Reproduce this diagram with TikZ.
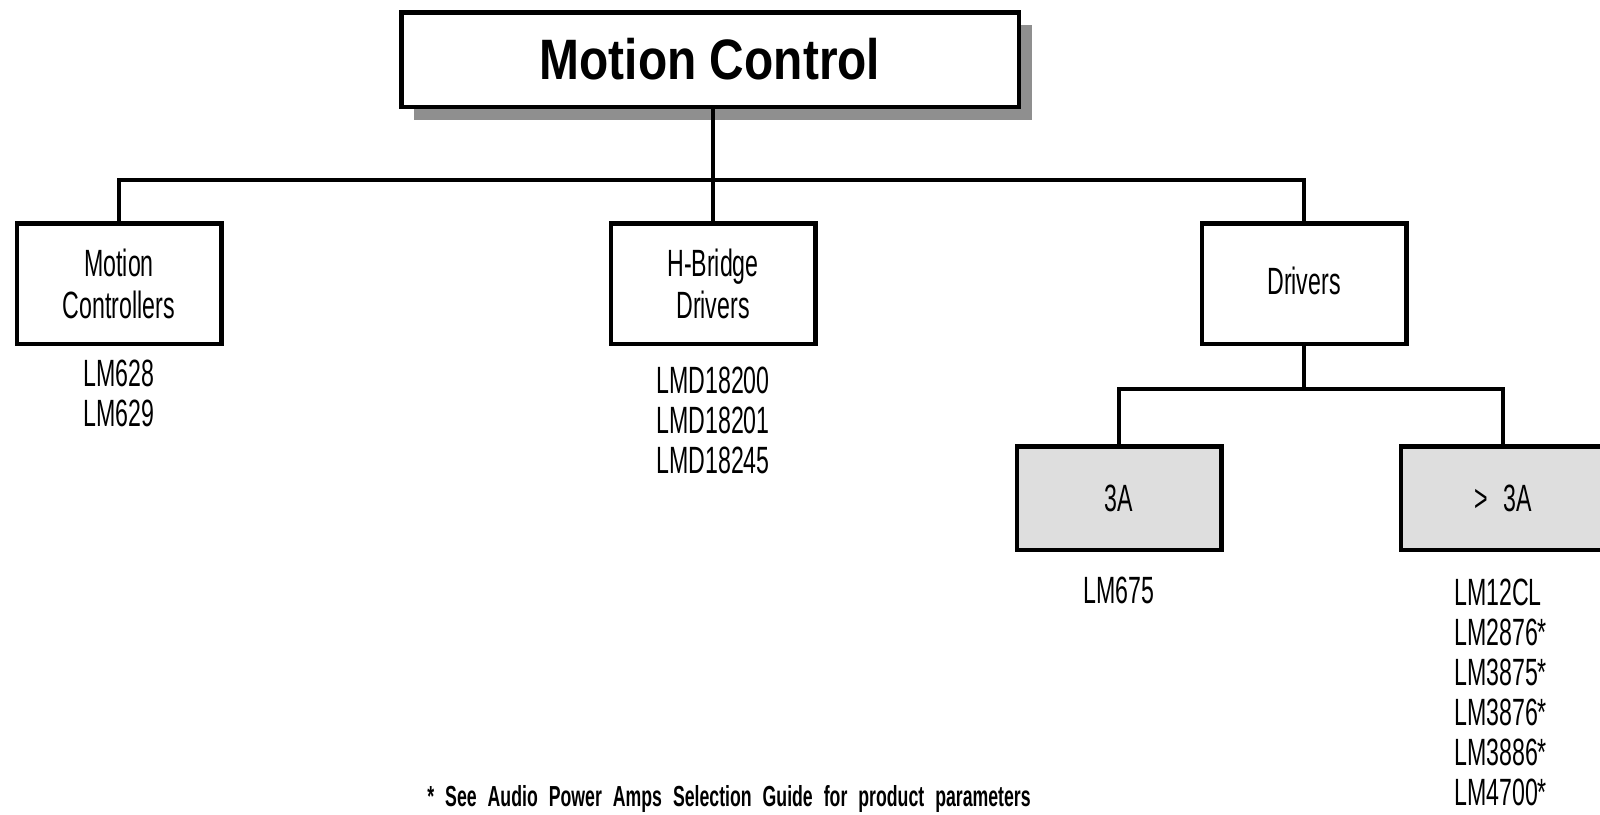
\documentclass[tikz,border=0pt]{standalone}
\usepackage{fontspec}
\setmainfont[FakeStretch=0.61]{Liberation Sans}
\newfontfamily\headfont[FakeStretch=0.84]{Liberation Sans}
\usetikzlibrary{shadows}
\definecolor{boxgray}{gray}{0.87}
\definecolor{shadowgray}{gray}{0.56}
\tikzset{
	chartbox/.style={draw, line width=4.5pt, fill=white, inner sep=0pt, minimum width=204.5pt, minimum height=120.5pt, align=center, font=\fontsize{38}{42}\selectfont},
	ampbox/.style={chartbox, fill=boxgray, minimum height=103.5pt},
	partlist/.style={inner sep=0pt, font=\fontsize{38}{40}\selectfont},
	bus/.style={line width=4pt}
}
\begin{document}
\begin{tikzpicture}[x=1pt, y=1pt]
			\useasboundingbox (0,0) rectangle (1600,-814);
			\node[chartbox, minimum width=617.5pt, minimum height=94.5pt, font=\headfont\bfseries\fontsize{57}{60}\selectfont,
				drop shadow={shadow xshift=13pt, shadow yshift=-13pt, fill=shadowgray, opacity=1}] at (710,-59.5) (top) {Motion Control};
			\node[chartbox] at ([xshift = -591pt, yshift = -224pt]top) (ctrl) {Motion\\Controllers};
			\node[chartbox] at ([xshift = 3pt, yshift = -224pt]top) (hbridge) {H-Bridge\\Drivers};
			\node[chartbox] at ([xshift = 594pt, yshift = -224pt]top) (drivers) {\raisebox{6pt}{Drivers}};
			\node[ampbox] at ([xshift = -185pt, yshift = -214.5pt]drivers) (low) {3A};
			\node[ampbox] at ([xshift = 199pt, yshift = -214.5pt]drivers) (high) {>\hspace{16pt}3A};
			\coordinate (bus) at ([yshift = -120.5pt]top);
			\coordinate (sub) at ([yshift = -105.5pt]drivers);

			\node[partlist, align=center] at ([yshift = -110pt]ctrl) (ctrllist) {LM628\\LM629};
			\node[partlist, align=center] at ([yshift = -136.5pt]hbridge) (hbridgelist) {LMD18200\\LMD18201\\LMD18245};
			\node[partlist, align=center] at ([yshift = -92pt]low) (lowlist) {LM675};
			\node[partlist, align=left, anchor=west] at ([xshift = -49pt, yshift = -194.5pt]high) (highlist) {LM12CL\\LM2876*\\LM3875*\\LM3876*\\LM3886*\\LM4700*};
			\node[inner sep=0pt, font=\bfseries\fontsize{29}{31}\selectfont] at ([xshift = 19pt, yshift = -739pt]top) (note) {\spaceskip=11pt\relax * See Audio Power Amps Selection Guide for product parameters};

			\draw[bus] (hbridge.north |- top.south) -- (hbridge.north);
			\draw[bus] (ctrl.north) |- (drivers.north |- bus) -- (drivers.north);
			\draw[bus] (drivers.south) -- (sub);
			\draw[bus] (low.north) |- (high.north |- sub) -- (high.north);
		\end{tikzpicture}
\end{document}
